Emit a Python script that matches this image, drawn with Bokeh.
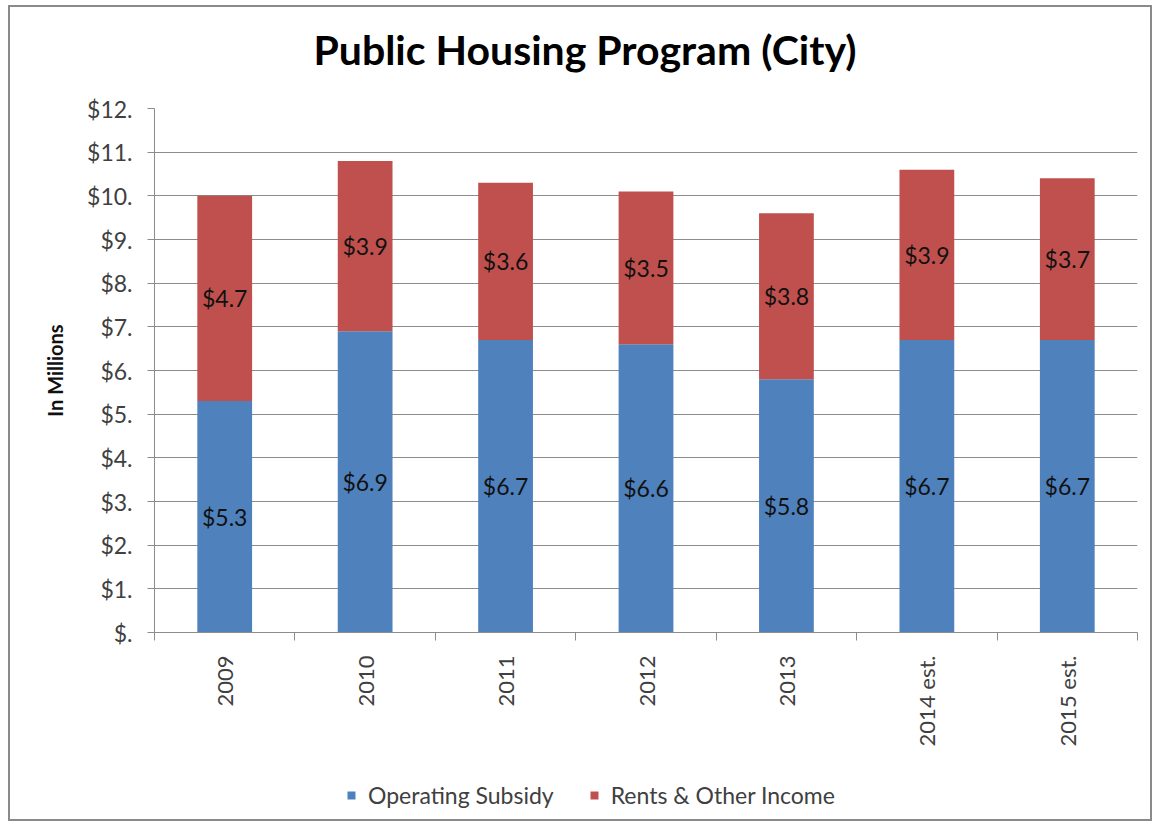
from bokeh.plotting import figure
from bokeh.layouts import column
from bokeh.models import (Range1d, LinearAxis, FixedTicker, Div,
                          ColumnDataSource, Legend, LegendItem, Grid)
from bokeh.core.properties import value
from bokeh.embed import file_html
from bokeh.resources import INLINE
import math

title_text = "Public Housing Program (City)"
years = ["2009", "2010", "2011", "2012", "2013", "2014 est.", "2015 est."]
operating_subsidy = [5.3, 6.9, 6.7, 6.6, 5.8, 6.7, 6.7]
rents_other = [4.7, 3.9, 3.6, 3.5, 3.8, 3.9, 3.7]
y_ticks = list(range(0, 13))
y_tick_labels = ["$."] + ["$%d." % v for v in range(1, 13)]
series_names = ["Operating Subsidy", "Rents & Other Income"]
colors = ["#4F81BD", "#C0504D"]

FONT = "Lato"
GRAY = "#8c8c8c"

n = len(years)
centers = [i + 0.5 for i in range(n)]
edges = list(range(n + 1))

W = 1140

# title strip
title_div = Div(text=title_text, width=W, height=80, margin=0,
                styles={"font-family": FONT, "font-weight": "bold", "font-size": "41px",
                        "line-height": "85px", "color": "#000000", "text-align": "center",
                        "text-indent": "10px", "white-space": "nowrap"})

p = figure(width=W, height=675, x_range=Range1d(0, n),
           y_range=Range1d(0, 12), output_backend="svg", toolbar_location=None,
           x_axis_location=None, y_axis_location=None,
           min_border_left=144, min_border_right=13, min_border_top=21,
           min_border_bottom=130)
p.outline_line_color = None
p.background_fill_color = "white"
p.border_fill_color = "white"
p.xgrid.visible = False
p.ygrid.visible = False

src = ColumnDataSource(dict(
    x=centers,
    top1=operating_subsidy,
    top2=[a + b for a, b in zip(operating_subsidy, rents_other)],
    mid1=[a / 2 for a in operating_subsidy],
    mid2=[a + b / 2 for a, b in zip(operating_subsidy, rents_other)],
    lab1=["$%.1f" % v for v in operating_subsidy],
    lab2=["$%.1f" % v for v in rents_other],
))

p.add_layout(Grid(dimension=1, ticker=FixedTicker(ticks=y_ticks), grid_line_color=GRAY,
                  grid_line_width=1))

r1 = p.vbar(x="x", bottom=0, top="top1", width=0.39, source=src,
            fill_color=colors[0], line_color=None)
r2 = p.vbar(x="x", bottom="top1", top="top2", width=0.39, source=src,
            fill_color=colors[1], line_color=None)

p.text(x="x", y="mid1", text="lab1", source=src, text_align="center",
       text_baseline="middle", text_font=value(FONT), text_font_size="23px",
       text_color="#111111")
p.text(x="x", y="mid2", text="lab2", source=src, text_align="center",
       text_baseline="middle", text_font=value(FONT), text_font_size="23px",
       text_color="#111111")

# y axis
yax = LinearAxis(ticker=FixedTicker(ticks=y_ticks, minor_ticks=[]))
yax.major_label_overrides = {t: l for t, l in zip(y_ticks, y_tick_labels)}
yax.axis_label = "In Millions"
yax.axis_label_text_font = FONT
yax.axis_label_text_font_style = "bold"
yax.axis_label_text_font_size = "20px"
yax.axis_label_text_color = "#111111"
yax.axis_label_standoff = 17
yax.major_label_text_font = FONT
yax.major_label_text_font_size = "23px"
yax.major_label_text_color = "#404040"
yax.major_label_standoff = 15
yax.major_tick_in = 0
yax.major_tick_out = 7
yax.axis_line_color = GRAY
yax.major_tick_line_color = GRAY
p.add_layout(yax, "left")

# x axis: category labels at centers, tick marks at category boundaries
xax = LinearAxis(ticker=FixedTicker(ticks=centers, minor_ticks=edges))
xax.major_label_overrides = {c: y for c, y in zip(centers, years)}
xax.axis_line_color = GRAY
xax.major_tick_line_color = None
xax.major_tick_in = 0
xax.major_tick_out = 8
xax.minor_tick_line_color = GRAY
xax.minor_tick_in = 0
xax.minor_tick_out = 8
xax.major_label_orientation = math.pi / 2
xax.major_label_text_font = FONT
xax.major_label_text_font_size = "22px"
xax.major_label_text_color = "#404040"
xax.major_label_standoff = 15
p.add_layout(xax, "below")

# legend strip beneath the chart
pl = figure(width=W, height=57, x_range=Range1d(0, 1), y_range=Range1d(0, 1),
            output_backend="svg", toolbar_location=None,
            x_axis_location=None, y_axis_location=None, min_border=0)
pl.outline_line_color = None
pl.xgrid.visible = False
pl.ygrid.visible = False
nan = float("nan")
lr1 = pl.vbar(x=[nan], top=[nan], width=0.5, fill_color=colors[0], line_color=None)
lr2 = pl.vbar(x=[nan], top=[nan], width=0.5, fill_color=colors[1], line_color=None)
legend = Legend(items=[LegendItem(label=series_names[0], renderers=[lr1]),
                       LegendItem(label=series_names[1], renderers=[lr2])],
                orientation="horizontal", location=(192, 10))
legend.label_text_font = FONT
legend.label_text_font_size = "23px"
legend.label_text_color = "#404040"
legend.glyph_width = 10
legend.glyph_height = 10
legend.label_standoff = 12
legend.spacing = 35
legend.padding = 0
legend.margin = 0
legend.border_line_color = None
legend.background_fill_alpha = 0
pl.add_layout(legend, "center")

layout = column(title_div, p, pl, spacing=0)
layout.styles = {"border": "2px solid #8a8a8a", "margin-left": "8px", "margin-top": "5px"}

open("out.html", "w").write(file_html(layout, INLINE))
